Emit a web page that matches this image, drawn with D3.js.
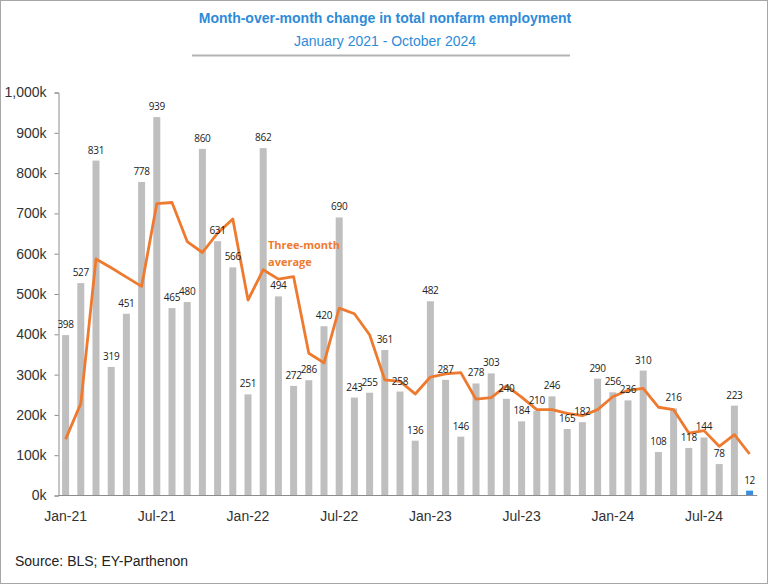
<!DOCTYPE html>
<html>
<head>
<meta charset="utf-8">
<script src="https://cdn.jsdelivr.net/npm/d3@7"></script>
<style>
  html, body { margin: 0; padding: 0; background: #fff; }
  svg { display: block; }
</style>
</head>
<body>
<div id="chart"></div>
<script>
// ---- Data ----
const months = [
  "Jan-21","Feb-21","Mar-21","Apr-21","May-21","Jun-21","Jul-21","Aug-21","Sep-21","Oct-21","Nov-21","Dec-21",
  "Jan-22","Feb-22","Mar-22","Apr-22","May-22","Jun-22","Jul-22","Aug-22","Sep-22","Oct-22","Nov-22","Dec-22",
  "Jan-23","Feb-23","Mar-23","Apr-23","May-23","Jun-23","Jul-23","Aug-23","Sep-23","Oct-23","Nov-23","Dec-23",
  "Jan-24","Feb-24","Mar-24","Apr-24","May-24","Jun-24","Jul-24","Aug-24","Sep-24","Oct-24"
];
const monthlyChange = [
  398, 527, 831, 319, 451, 778, 939, 465, 480, 860, 631, 566,
  251, 862, 494, 272, 286, 420, 690, 243, 255, 361, 258, 136,
  482, 287, 146, 278, 303, 240, 184, 210, 246, 165, 182, 290,
  256, 236, 310, 108, 216, 118, 144, 78, 223, 12
];
const threeMonthAvg = [
  140, 228, 587, 565, 542, 519, 724, 727, 630, 603, 651, 686,
  485, 560, 537, 543, 353, 329, 465, 451, 399, 287, 283, 252,
  294, 302, 305, 239, 243, 272, 244, 213, 213, 204, 198, 213,
  245, 261, 266, 219, 213, 155, 161, 122, 151, 103
];
const yTicks = [0, 100, 200, 300, 400, 500, 600, 700, 800, 900, 1000];
const xTickLabels = ["Jan-21","Jul-21","Jan-22","Jul-22","Jan-23","Jul-23","Jan-24","Jul-24"];

const W = 768, H = 584;
const svg = d3.select("#chart").append("svg").attr("width", W).attr("height", H);

// Frame
svg.append("rect").attr("x", 0.5).attr("y", 0.5).attr("width", W - 1).attr("height", H - 1)
  .attr("fill", "#fff").attr("stroke", "#a6a6a6").attr("stroke-width", 1);

// Title
svg.append("text").attr("x", 385).attr("y", 23).attr("text-anchor", "middle")
  .attr("font-family", "'Liberation Sans', Arial, sans-serif").attr("font-size", 14).attr("font-weight", "bold")
  .attr("fill", "#2E8BD8").text("Month-over-month change in total nonfarm employment");
svg.append("text").attr("x", 385).attr("y", 46).attr("text-anchor", "middle")
  .attr("font-family", "'Liberation Sans', Arial, sans-serif").attr("font-size", 14)
  .attr("fill", "#2E8BD8").text("January 2021 - October 2024");
svg.append("line").attr("x1", 192).attr("x2", 570).attr("y1", 55.5).attr("y2", 55.5)
  .attr("stroke", "#b3b3b3").attr("stroke-width", 2);

// Scales
const x = d3.scaleBand().domain(months).range([58, 757.2]).paddingInner(0.54).paddingOuter(0.27);
const y = d3.scaleLinear().domain([0, 1000]).range([495.5, 92.5]);
const cx = d => x(d) + x.bandwidth() / 2;

// Bars
const g = svg.append("g");
g.selectAll("rect.bar").data(months).join("rect")
  .attr("class", "bar")
  .attr("x", d => x(d))
  .attr("width", x.bandwidth())
  .attr("y", (d, i) => y(monthlyChange[i]))
  .attr("height", (d, i) => y(0) - y(monthlyChange[i]))
  .attr("fill", (d, i) => i === months.length - 1 ? "#3A8EE0" : "#BFBFBF");

// Axes
const yAxis = d3.axisLeft(y).tickValues(yTicks).tickSize(4).tickPadding(8)
  .tickFormat(d => d3.format(",")(d) + "k");
const yg = svg.append("g").attr("transform", "translate(58.5,0)").call(yAxis);
yg.select(".domain").attr("stroke", "#8c8c8c");
yg.selectAll(".tick line").attr("stroke", "#8c8c8c");
yg.selectAll(".tick text").attr("font-family", "'Liberation Sans', Arial, sans-serif")
  .attr("font-size", 14).attr("fill", "#333");

const xAxis = d3.axisBottom(x).tickValues(xTickLabels).tickSize(0).tickPadding(16);
const xg = svg.append("g").attr("transform", "translate(0,495.5)").call(xAxis);
xg.select(".domain").attr("stroke", "#8c8c8c").attr("d", "M58.5,0H757.2");
xg.selectAll(".tick text").attr("font-family", "'Liberation Sans', Arial, sans-serif")
  .attr("font-size", 14).attr("fill", "#333");

// Three-month average line
const line = d3.line().x((d, i) => cx(months[i])).y(d => y(d));
svg.append("path").datum(threeMonthAvg).attr("d", line)
  .attr("fill", "none").attr("stroke", "#EE7A2F").attr("stroke-width", 2.8)
  .attr("stroke-linejoin", "round");

// Value labels
svg.append("g").selectAll("text").data(months).join("text")
  .attr("x", d => cx(d))
  .attr("y", (d, i) => y(monthlyChange[i]) - 7)
  .attr("text-anchor", "middle")
  .attr("font-family", "'Open Sans', sans-serif").attr("font-size", 10)
  .attr("letter-spacing", -0.3)
  .attr("fill", "#222")
  .text((d, i) => monthlyChange[i]);

// Line annotation
const ann = svg.append("text").attr("font-family", "'Open Sans', sans-serif").attr("font-size", 11)
  .attr("font-weight", "bold").attr("fill", "#EE7A2F");
ann.append("tspan").attr("x", 268).attr("y", 249).text("Three-month");
ann.append("tspan").attr("x", 268).attr("y", 266).text("average");

// Source
svg.append("text").attr("x", 15).attr("y", 566)
  .attr("font-family", "'Liberation Sans', Arial, sans-serif").attr("font-size", 14)
  .attr("fill", "#222").text("Source: BLS; EY-Parthenon");
</script>
</body>
</html>
